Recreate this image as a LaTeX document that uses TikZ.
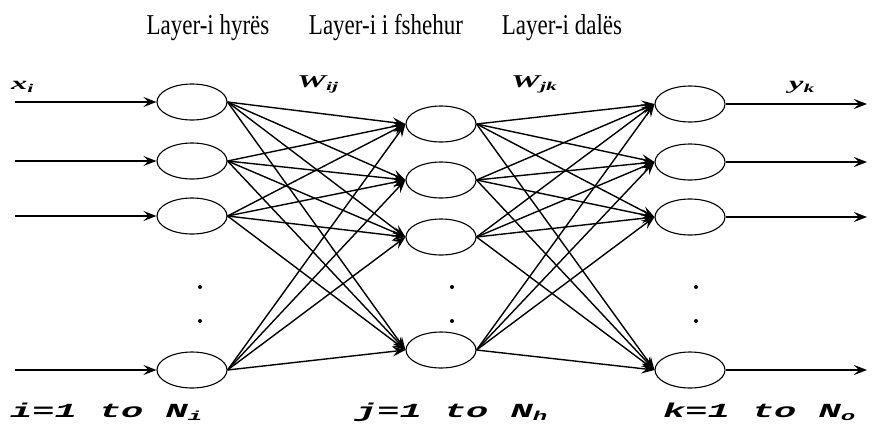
\documentclass[tikz,border=0pt]{standalone}
\usepackage{fontspec}
\usepackage{graphicx}
\setmainfont{Liberation Serif}
\newfontfamily\monolbl{Liberation Mono}
\usetikzlibrary{arrows.meta,shapes.geometric}

% wide bold-italic weight label, e.g. \wlabel{W}{ij}
\newcommand{\wlabel}[2]{\scalebox{1.8}[1]{\fontsize{18}{18}\selectfont\bfseries\itshape #1\raisebox{-3pt}{\fontsize{12}{12}\selectfont #2}}}
% wide monospaced index range, e.g. \rnglabel{i}{i}
\newcommand{\rnglabel}[2]{\scalebox{1.85}[1]{\monolbl\fontsize{20}{20}\selectfont\bfseries\itshape #1=1 to N\raisebox{-3pt}{\fontsize{13}{13}\selectfont #2}}}
% tall layer title
\newcommand{\layertitle}[1]{\scalebox{1}[1.25]{\fontsize{23}{23}\selectfont #1}}

\begin{document}
\begin{tikzpicture}[x=1pt,y=-1pt,
  neuron/.style={draw, ellipse, line width=1.1pt, minimum width=70pt, minimum height=36pt, inner sep=0pt},
  link/.style={line width=1.4pt, -{Stealth[length=13pt,width=10pt,inset=5pt]}},
  dotmark/.style={circle, fill=black, inner sep=0pt, minimum size=4pt},
  title/.style={anchor=base, inner sep=0pt},
  lbl/.style={anchor=base west, inner sep=0pt}]
\useasboundingbox (0,0) rectangle (888,423);

% layer titles
\node[title] (t1) at (208,34) {\layertitle{Layer-i hyrës}};
\node[title] (t2) at (386,34) {\layertitle{Layer-i i fshehur}};
\node[title] (t3) at (562,34) {\layertitle{Layer-i dalës}};

% input layer
\node[neuron] (i1) at (192,102) {};
\node[neuron] (i2) at (192,161) {};
\node[neuron] (i3) at (192,216) {};
\node[neuron] (i4) at (192,370) {};
% hidden layer
\node[neuron] (h1) at (441,124) {};
\node[neuron] (h2) at (441,180) {};
\node[neuron] (h3) at (441,237) {};
\node[neuron] (h4) at (441,350) {};
% output layer
\node[neuron] (o1) at (690,104) {};
\node[neuron] (o2) at (690,162) {};
\node[neuron] (o3) at (690,217) {};
\node[neuron] (o4) at (690,370) {};

% ellipsis dots
\node[dotmark] (d1) at (200,287) {};
\node[dotmark] (d2) at (200,321) {};
\node[dotmark] (d3) at (452,287) {};
\node[dotmark] (d4) at (452,321) {};
\node[dotmark] (d5) at (696,287) {};
\node[dotmark] (d6) at (696,321) {};

% inputs and outputs
\foreach \n/\y in {1/102,2/161,3/216,4/370}{
  \coordinate (in\n) at (15,\y);
  \draw[link] (in\n) -- (i\n.west);
}
\foreach \n/\y in {1/104,2/162,3/217,4/370}{
  \coordinate (out\n) at (867,\y);
  \draw[link] (o\n.east) -- (out\n);
}

% full connections
\foreach \a in {1,2,3,4}{
  \foreach \b in {1,2,3,4}{
    \draw[link] (i\a.east) -- (h\b.west);
    \draw[link] (h\a.east) -- (o\b.west);
  }
}

% weight and signal labels
\node[lbl] (lx) at (11,89) {\wlabel{x}{i}};
\node[lbl] (lw1) at (297,87) {\wlabel{W}{ij}};
\node[lbl] (lw2) at (511,87) {\wlabel{W}{jk}};
\node[lbl] (ly) at (789,89) {\wlabel{y}{k}};

% index ranges
\node[lbl] (r1) at (10,417) {\rnglabel{i}{i}};
\node[lbl] (r2) at (355,417) {\rnglabel{j}{h}};
\node[lbl] (r3) at (663,417) {\rnglabel{k}{o}};
\end{tikzpicture}
\end{document}
